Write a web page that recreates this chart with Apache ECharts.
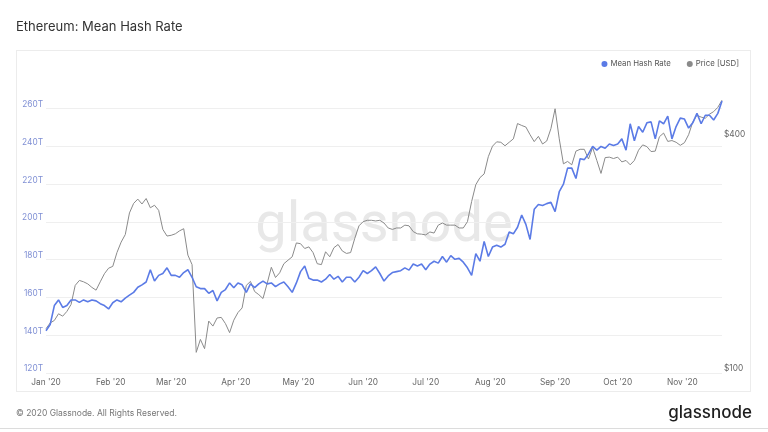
<!DOCTYPE html>
<html>
<head>
<meta charset="utf-8">
<script src="https://cdn.jsdelivr.net/npm/echarts@6/dist/echarts.min.js"></script>
<style>
  html, body { margin: 0; padding: 0; background: #ffffff; }
  #wrap { position: relative; width: 768px; height: 432px; overflow: hidden; }
  #card { position: absolute; left: 16px; top: 50px; width: 735px; height: 342px; border: 1px solid #ececec; box-sizing: border-box; }
  #rule { position: absolute; left: 0; top: 428px; width: 768px; height: 0; border-top: 1px solid #dcdcdc; }
  #c { position: absolute; left: 0; top: 0; width: 768px; height: 432px; }
</style>
</head>
<body>
<div id="wrap">
  <div id="card"></div>
  <div id="rule"></div>
  <div id="c"></div>
</div>
<script>
// ---- data (one value every 2 days from 2020-01-01) ----
const startYear = 2020, startMonth = 0, startDay = 1;
const stepDays = 2;

// Mean hash rate, TH/s
const hashRate = [
  142.4, 145.7, 155.7, 158.7, 154.7, 155.7, 158.7, 158.7, 157.4, 158.7,
  157.7, 158.7, 158.2, 156.7, 155.7, 153.9, 157.2, 158.7, 157.7, 159.7,
  161.2, 162.7, 165.4, 166.7, 168.2, 174.7, 168.7, 171.7, 172.7, 175.7,
  171.7, 171.7, 170.7, 173.2, 174.7, 170.7, 165.7, 164.7, 164.7, 162.2,
  163.7, 158.2, 162.7, 164.2, 167.7, 165.2, 167.7, 166.7, 162.7, 167.2,
  165.2, 167.2, 168.7, 167.2, 167.7, 165.7, 167.2, 168.2, 165.7, 162.7,
  167.7, 173.7, 176.7, 170.2, 169.2, 169.2, 168.2, 169.7, 172.2, 169.7,
  171.2, 168.2, 170.7, 170.7, 168.2, 170.7, 174.2, 172.7, 174.2, 176.2,
  172.7, 168.7, 171.4, 173.2, 173.7, 174.2, 175.7, 174.5, 177.7, 176.7,
  177.7, 174.7, 177.7, 179.2, 178.2, 181.7, 178.7, 182.2, 180.2, 180.7,
  178.7, 175.7, 171.7, 183.2, 179.2, 189.7, 181.7, 186.7, 187.7, 186.7,
  188.2, 194.7, 193.7, 197.2, 203.7, 198.7, 190.7, 206.7, 209.2, 208.7,
  209.7, 210.4, 205.5, 216.0, 220.0, 228.5, 228.5, 223.0, 233.5, 233.0,
  236.0, 240.0, 238.0, 240.0, 239.0, 241.3, 240.5, 241.3, 244.0, 238.0,
  252.0, 243.0, 250.5, 247.5, 252.5, 253.0, 244.0, 253.5, 252.0, 256.0,
  244.0, 250.5, 255.0, 254.5, 249.7, 252.5, 257.5, 252.0, 256.5, 256.5,
  254.0, 257.5, 264.0
];

// ETH price, USD
const price = [
  130, 134.5, 136.5, 142, 140, 144, 150, 168, 173, 171.6,
  169.5, 166, 163.3, 171.6, 180, 186, 188, 204, 217, 227,
  258, 273, 280, 272, 281, 266, 270, 262, 234, 225,
  226, 228, 232, 235, 201, 190, 113, 122, 115.5, 136,
  132, 138.5, 139, 134, 127, 136.7, 143, 147, 168, 172,
  162, 159, 155.4, 170, 187, 176, 181, 191, 195, 199,
  216, 215, 209, 211, 204, 191, 190, 205, 199, 210,
  214, 206, 203, 204, 222, 239, 245, 247, 247, 246,
  247, 243, 236, 234, 236, 236, 240, 239, 231, 228,
  227.5, 226.5, 230.5, 229, 240, 243, 240, 240, 240, 236,
  236, 245, 276, 305, 318, 325, 360, 383, 393, 392,
  384, 392, 400, 438, 433, 429, 410, 393.5, 406, 388,
  395, 425, 478, 400, 345, 350, 343, 372, 376, 376,
  355, 380, 352, 326, 358, 359, 356, 359, 349, 352,
  343, 352, 374, 386, 382, 371, 372, 405, 414, 394,
  396, 392, 385, 391, 410, 442, 460, 455, 452, 463,
  470, 482, 503
];

// tick labels
const monthTicks = [[2020,0],[2020,1],[2020,2],[2020,3],[2020,4],[2020,5],
                    [2020,6],[2020,7],[2020,8],[2020,9],[2020,10]];
const monthNames = ['Jan','Feb','Mar','Apr','May','Jun','Jul','Aug','Sep','Oct','Nov','Dec'];
const hashTicks = [120, 140, 160, 180, 200, 220, 240, 260];
const priceTicks = [100, 400];

// ---- build ----
function dateAt(i) {
  return new Date(startYear, startMonth, startDay + i * stepDays).getTime();
}
const hashData = hashRate.map((v, i) => [dateAt(i), v]);
const priceData = price.map((v, i) => [dateAt(i), v]);
const xMin = dateAt(0);
const xMax = dateAt(hashRate.length - 1);
const monthTickValues = monthTicks.map(m => new Date(m[0], m[1], 1).getTime());

const FONT = 'Inter';
const BLUE = '#5b7be6';
const GREY = '#8a8a8a';

const chart = echarts.init(document.getElementById('c'), null, { renderer: 'canvas' });
chart.setOption({
  animation: false,
  textStyle: { fontFamily: FONT },
  title: {
    text: 'Ethereum: Mean Hash Rate',
    left: 16, top: 21, padding: 0,
    textStyle: { fontFamily: FONT, fontSize: 13, fontWeight: 'normal', color: '#333333' }
  },
  legend: {
    data: ['Mean Hash Rate', 'Price [USD]'],
    right: 29, top: 60, padding: 0,
    icon: 'circle',
    itemWidth: 6, itemHeight: 6, itemGap: 16,
    textStyle: { fontFamily: FONT, fontSize: 7.8, color: '#555555', padding: [0, 0, 0, -2] }
  },
  grid: { left: 46, right: 46, top: 86, bottom: 59, containLabel: false },
  xAxis: {
    type: 'value',
    min: xMin, max: xMax,
    axisLine: { show: false },
    axisTick: { show: false, customValues: monthTickValues },
    splitLine: { show: false },
    axisLabel: {
      customValues: monthTickValues,
      margin: 6,
      fontFamily: FONT, fontSize: 8.3, color: '#666666',
      formatter: function (val) {
        const d = new Date(val);
        return monthNames[d.getMonth()] + " '" + String(d.getFullYear()).slice(2);
      }
    }
  },
  yAxis: [
    {
      type: 'value',
      min: 120, max: 272,
      axisLine: { show: false },
      axisTick: { show: false, customValues: hashTicks },
      splitLine: { show: true, lineStyle: { color: '#efefef', width: 1 } },
      axisLabel: {
        customValues: hashTicks,
        margin: 3,
        fontFamily: FONT, fontSize: 8.3, color: '#7f8fd4',
        verticalAlign: 'bottom',
        formatter: v => v + 'T'
      }
    },
    {
      type: 'log', logBase: 10,
      min: 100, max: 547,
      position: 'right',
      axisLine: { show: false },
      axisTick: { show: false, customValues: priceTicks },
      splitLine: { show: false },
      axisLabel: {
        customValues: priceTicks,
        margin: 2,
        fontFamily: FONT, fontSize: 8.3, color: '#666666',
        verticalAlign: 'bottom',
        formatter: v => '$' + Math.round(v)
      }
    }
  ],
  graphic: [
    {
      type: 'text', left: 'center', top: 199, z: 0, silent: true,
      style: { text: 'glassnode', fontFamily: 'Roboto', fontSize: 56, fill: '#e8e8e8' }
    },
    {
      type: 'text', left: 16, top: 409, silent: true,
      style: { text: '© 2020 Glassnode. All Rights Reserved.', fontFamily: FONT, fontSize: 8.5, fill: '#777777' }
    },
    {
      type: 'text', right: 16, top: 404, silent: true,
      style: { text: 'glassnode', fontFamily: FONT, fontSize: 17, fontWeight: 500, fill: '#1e1e1e' }
    }
  ],
  series: [
    {
      name: 'Price [USD]', type: 'line', yAxisIndex: 1,
      data: priceData, showSymbol: false, symbol: 'circle',
      itemStyle: { color: GREY },
      lineStyle: { color: GREY, width: 1 }
    },
    {
      name: 'Mean Hash Rate', type: 'line', yAxisIndex: 0,
      data: hashData, showSymbol: false, symbol: 'circle',
      itemStyle: { color: BLUE },
      lineStyle: { color: BLUE, width: 1.6 }
    }
  ]
});
</script>
</body>
</html>
